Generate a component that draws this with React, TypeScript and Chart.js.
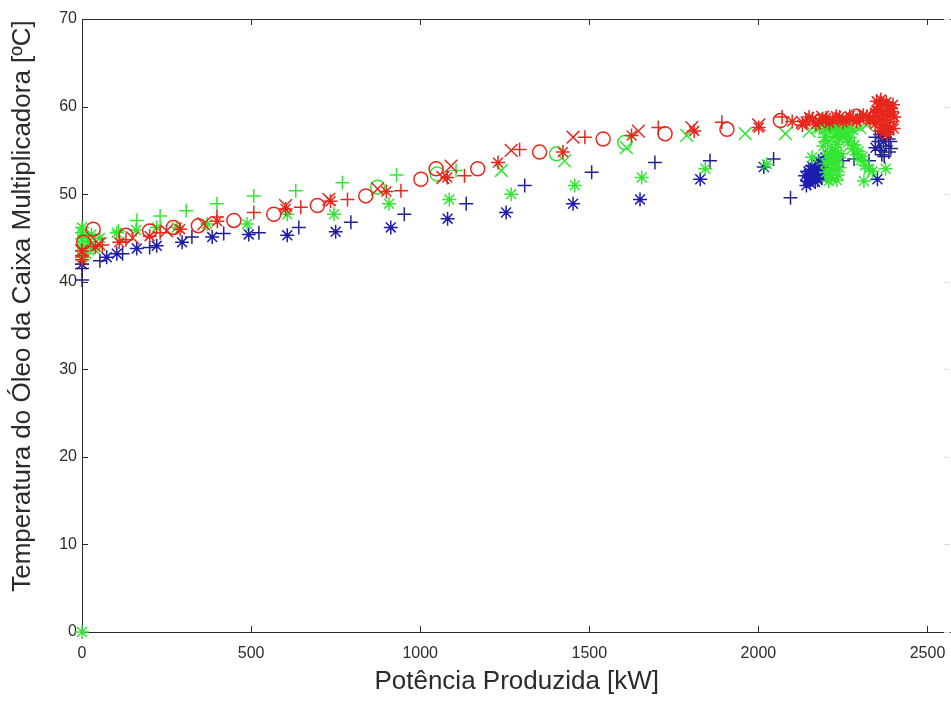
import React, { useEffect, useRef } from "react";
import { Chart, registerables } from "chart.js";

Chart.register(...registerables);

type P = [number, number];

const X_TITLE = "Potência Produzida [kW]";
const Y_TITLE = "Temperatura do Óleo da Caixa Multiplicadora [ºC]";
const X_TICKS = [0, 500, 1000, 1500, 2000, 2500];
const Y_TICKS = [0, 10, 20, 30, 40, 50, 60, 70];
const X_MAX = 2571;
const Y_MAX = 70;

const blueCross: P[] = [
  [0, 40.2], [0, 41.5], [0, 42.0], [53, 42.4], [120, 43.2], [200, 43.9], [325, 45.1], [419, 45.5],
  [523, 45.6], [641, 46.2], [795, 46.8], [953, 47.7], [1136, 48.9], [1309, 51.0], [1507, 52.5],
  [1694, 53.6], [1857, 53.8], [2045, 54.0], [2095, 49.6], [2250, 53.8], [2283, 54.0], [2327, 53.8],
  [2346, 56.5], [2360, 55.0], [2377, 55.5], [2386, 54.8], [2390, 56.0], [2372, 54.3], [2355, 56.0],
  [2385, 56.3], [2365, 54.5], [2392, 55.2],
];

const blueStar: P[] = [
  [0, 42.0], [73, 42.8], [103, 43.2], [162, 43.8], [221, 44.1], [296, 44.5], [385, 45.1], [493, 45.4],
  [607, 45.3], [750, 45.7], [913, 46.2], [1081, 47.2], [1254, 47.9], [1452, 48.9], [1650, 49.4],
  [1828, 51.7], [2016, 53.1], [2138, 52.1], [2145, 51.5], [2150, 52.0], [2160, 51.8], [2165, 52.5],
  [2170, 53.0], [2175, 51.6], [2185, 53.5], [2190, 52.2], [2198, 54.2], [2155, 52.8], [2142, 51.0],
  [2152, 51.3], [2168, 51.4], [2180, 52.8], [2172, 52.2], [2158, 53.2], [2178, 53.8], [2188, 51.9],
  [2195, 53.0], [2148, 52.6], [2352, 51.7], [2346, 55.3], [2370, 56.0], [2380, 57.0], [2360, 56.8],
];

const greenCross: P[] = [
  [108, 45.8], [162, 47.0], [231, 47.5], [308, 48.1], [399, 48.9], [508, 49.8], [632, 50.4],
  [770, 51.3], [930, 52.2], [1106, 52.7],
];

const greenStar: P[] = [
  [0, 0], [0, 42.8], [0, 43.5], [0, 44.2], [0, 44.9], [0, 45.6], [0, 46.2], [12, 43.2], [20, 44.6],
  [28, 45.4], [35, 43.8], [53, 45.0], [103, 45.6], [160, 45.9], [221, 46.2], [281, 46.2], [370, 46.6],
  [488, 46.6], [607, 47.7], [745, 47.7], [908, 48.9], [1086, 49.4], [1269, 50.0], [1457, 51.0],
  [1655, 51.9], [1843, 52.9], [2025, 53.4], [2159, 54.2], [2312, 51.5], [2376, 52.9],
  [2192, 55.5], [2196, 56.5], [2200, 57.5], [2204, 54.5], [2208, 51.5], [2212, 52.2], [2216, 52.9],
  [2220, 53.6], [2225, 54.3], [2229, 55.0], [2233, 55.7], [2238, 56.4], [2243, 57.1], [2249, 57.6],
  [2255, 58.0], [2200, 52.5], [2215, 51.8], [2222, 52.6], [2230, 53.5], [2210, 53.8], [2218, 55.2],
  [2226, 56.6], [2205, 56.0], [2212, 57.2], [2222, 58.0], [2235, 52.2], [2240, 53.0], [2232, 51.6],
  [2245, 54.6], [2214, 54.6], [2198, 53.5], [2228, 57.4], [2236, 54.2],
  [2227, 58.0], [2240, 57.3], [2252, 56.6], [2265, 55.9], [2278, 55.2], [2290, 54.5], [2303, 53.9],
  [2315, 53.3], [2327, 52.9], [2337, 52.6], [2258, 57.2], [2270, 56.5], [2284, 55.6], [2296, 54.9],
  [2308, 54.3], [2180, 57.5], [2200, 57.8], [2260, 57.0], [2280, 57.3],
];

const greenX: P[] = [
  [1240, 52.7], [1427, 53.8], [1610, 55.3], [1788, 56.7], [1961, 56.9], [2080, 56.9], [2150, 57.2],
  [2175, 57.6], [2270, 57.8], [2300, 57.6], [2320, 57.9],
];

const greenCircle: P[] = [[874, 50.8], [1050, 52.3], [1403, 54.6], [1605, 55.9], [2300, 58.3]];

const redCircle: P[] = [
  [5, 44.5], [33, 46.0], [130, 45.3], [200, 45.8], [270, 46.2], [344, 46.4], [449, 47.0], [567, 47.7],
  [696, 48.7], [839, 49.8], [1002, 51.7], [1047, 52.9], [1170, 52.9], [1353, 54.8], [1541, 56.3],
  [1724, 56.9], [1907, 57.4], [2065, 58.4], [2290, 58.9], [2350, 59.0], [2380, 59.5], [2390, 58.5],
];

const redCross: P[] = [
  [0, 43.0], [60, 44.2], [130, 44.8], [231, 45.6], [399, 47.4], [508, 47.9], [647, 48.5], [785, 49.4],
  [943, 50.4], [1131, 52.1], [1294, 55.1], [1487, 56.5], [1704, 57.6], [1892, 58.2], [2070, 58.8],
  [2200, 58.5], [2300, 58.8], [2380, 59.5], [2360, 60.5],
];

const redX: P[] = [
  [0, 43.5], [50, 44.3], [150, 45.0], [250, 45.8], [360, 46.6], [602, 48.7], [730, 49.4], [874, 50.6],
  [1067, 51.9], [1091, 53.2], [1269, 55.0], [1452, 56.5], [1645, 57.2], [1803, 57.6], [2001, 57.9],
  [2130, 58.2], [2160, 58.5], [2190, 58.8], [2250, 58.6], [2350, 59.0],
];

const redStar: P[] = [
  [0, 42.5], [0, 43.5], [40, 44.0], [110, 44.5], [200, 45.2], [290, 46.0], [400, 46.9], [602, 48.3],
  [735, 49.2], [900, 50.3], [1080, 51.9], [1230, 53.6], [1422, 54.8], [1625, 56.7], [1810, 57.2],
  [2001, 57.6], [2100, 58.3], [2130, 57.9], [2140, 58.3], [2150, 58.8], [2160, 58.6], [2170, 58.0],
  [2180, 58.2], [2190, 58.6], [2200, 58.7], [2210, 58.1], [2220, 58.4], [2230, 58.9], [2240, 58.8],
  [2250, 58.2], [2260, 58.5], [2270, 58.9], [2280, 58.7], [2290, 58.3], [2300, 58.6], [2310, 59.0],
  [2320, 58.9], [2330, 58.4], [2345, 58.0], [2350, 59.5], [2355, 60.0], [2360, 58.5], [2365, 59.2],
  [2370, 60.3], [2375, 57.8], [2380, 59.0], [2385, 60.0], [2390, 58.3], [2395, 59.4], [2400, 57.5],
  [2360, 57.2], [2380, 56.8], [2370, 58.0], [2392, 59.8], [2345, 59.3], [2350, 60.6], [2362, 60.8],
  [2378, 60.5], [2398, 60.2], [2402, 58.8], [2340, 58.7], [2388, 57.4], [2368, 57.6],
];

const RED = "#e8261c";
const GREEN = "#33e633";
const BLUE = "#1c1cb0";
const NAVY = "#20208e";

const AXIS_COLOR = "#2b2b2b";
const FONT = "'Liberation Sans', Arial, Helvetica, sans-serif";
const TITLE_SIZE = 26;
const CANVAS_W = 962;

function ds(label: string, data: P[], color: string, style: string, radius: number) {
  return {
    label,
    data: data.map(([x, y]) => ({ x, y })),
    pointStyle: style,
    pointRadius: radius,
    pointHoverRadius: radius,
    borderColor: color,
    backgroundColor: "rgba(0,0,0,0)",
    pointBorderWidth: 1.5,
    borderWidth: 1.5,
    showLine: false,
    clip: false as any,
  };
}

const boxPlugin = {
  id: "matlabBox",
  beforeDatasetsDraw(chart: any) {
    const { ctx, chartArea } = chart;
    const { left, right, top, bottom } = chartArea;
    const xs = chart.scales.x;
    const ys = chart.scales.y;
    ctx.save();
    ctx.strokeStyle = AXIS_COLOR;
    ctx.lineWidth = 1;
    ctx.beginPath();
    ctx.moveTo(left + 0.5, top + 0.5);
    ctx.lineTo(right, top + 0.5);
    ctx.moveTo(left + 0.5, top);
    ctx.lineTo(left + 0.5, bottom + 0.5);
    ctx.lineTo(right, bottom + 0.5);
    ctx.stroke();
    const tl = 6;
    ctx.beginPath();
    X_TICKS.forEach((v) => {
      const px = Math.round(xs.getPixelForValue(v)) + 0.5;
      ctx.moveTo(px, bottom);
      ctx.lineTo(px, bottom - tl);
      ctx.moveTo(px, top);
      ctx.lineTo(px, top + tl);
    });
    Y_TICKS.forEach((v) => {
      const py = Math.round(ys.getPixelForValue(v)) + 0.5;
      ctx.moveTo(left, py);
      ctx.lineTo(left + tl, py);
    });
    ctx.stroke();
    ctx.strokeStyle = "#dcdcdc";
    ctx.beginPath();
    Y_TICKS.forEach((v) => {
      const py = Math.round(ys.getPixelForValue(v)) + 0.5;
      ctx.moveTo(944, py);
      ctx.lineTo(950, py);
    });
    ctx.stroke();
    ctx.restore();
  },
  afterDraw(chart: any) {
    const { ctx } = chart;
    ctx.save();
    ctx.translate(23, 306);
    ctx.rotate(-Math.PI / 2);
    ctx.fillStyle = AXIS_COLOR;
    ctx.font = `${TITLE_SIZE}px ${FONT}`;
    ctx.textAlign = "center";
    ctx.textBaseline = "middle";
    ctx.fillText(Y_TITLE, 0, 0);
    ctx.restore();
  },
};

export default function App() {
  const ref = useRef<HTMLCanvasElement | null>(null);
  useEffect(() => {
    if (!ref.current) return;
    const chart = new Chart(ref.current, {
      type: "scatter",
      data: {
        datasets: [
          ds("red o", redCircle, RED, "circle", 7),
          ds("red x", redX, RED, "crossRot", 9),
          ds("red +", redCross, RED, "cross", 7),
          ds("red *", redStar, RED, "star", 7),
          ds("green o", greenCircle, GREEN, "circle", 7),
          ds("green x", greenX, GREEN, "crossRot", 9),
          ds("green +", greenCross, GREEN, "cross", 7),
          ds("green *", greenStar, GREEN, "star", 7),
          ds("blue +", blueCross, NAVY, "cross", 7),
          ds("blue *", blueStar, BLUE, "star", 7),
        ] as any,
      },
      options: {
        animation: false,
        responsive: false,
        devicePixelRatio: 1,
        events: [],
        layout: { padding: { top: 19, right: 0, left: 0, bottom: 0 } },
        plugins: { legend: { display: false }, tooltip: { enabled: false } },
        scales: {
          x: {
            type: "linear",
            min: 0,
            max: X_MAX,
            grid: { display: false, drawTicks: false, tickLength: 0 },
            border: { display: false },
            afterBuildTicks: (s: any) => {
              s.ticks = X_TICKS.map((v) => ({ value: v }));
            },
            afterFit: (s: any) => {
              s.height = 77;
              s.paddingLeft = 0;
              s.paddingRight = 0;
            },
            ticks: {
              color: AXIS_COLOR,
              font: { family: FONT, size: 16 },
              padding: 12,
              maxRotation: 0,
              autoSkip: false,
              callback: (v: any) => String(v),
            },
            title: {
              display: true,
              text: X_TITLE,
              color: AXIS_COLOR,
              font: { family: FONT, size: TITLE_SIZE },
              padding: { top: 0, bottom: 12 },
            },
          },
          y: {
            type: "linear",
            min: 0,
            max: Y_MAX,
            grid: { display: false, drawTicks: false, tickLength: 0 },
            border: { display: false },
            afterBuildTicks: (s: any) => {
              s.ticks = Y_TICKS.map((v) => ({ value: v }));
            },
            afterFit: (s: any) => {
              s.width = 82;
              s.paddingTop = 0;
              s.paddingBottom = 0;
            },
            ticks: {
              color: AXIS_COLOR,
              font: { family: FONT, size: 16 },
              padding: 5,
              autoSkip: false,
              callback: (v: any) => String(v),
            },
            title: { display: false, text: Y_TITLE },
          },
        },
      },
      plugins: [boxPlugin],
    });
    return () => chart.destroy();
  }, []);
  return (
    <div style={{ position: "fixed", left: 0, top: 0, width: 951, height: 709, overflow: "hidden", background: "#fff" }}>
      <canvas ref={ref} width={CANVAS_W} height={709} style={{ width: CANVAS_W, height: 709, display: "block" }} />
    </div>
  );
}
